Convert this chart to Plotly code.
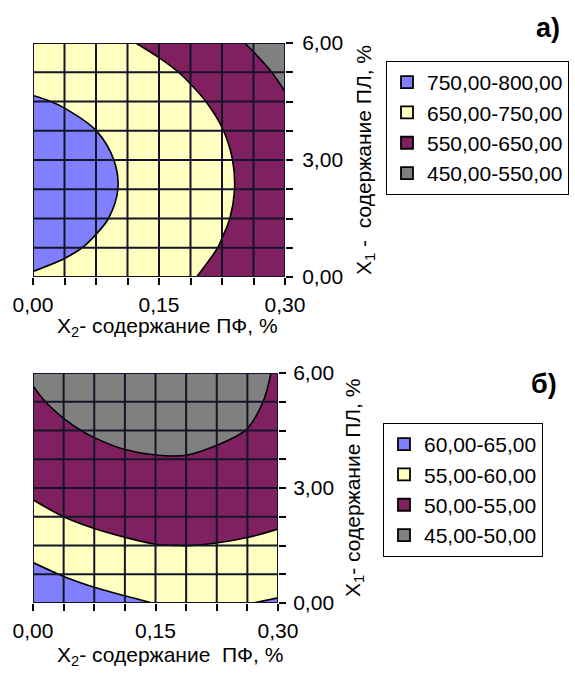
import plotly.graph_objects as go

# ---- data -------------------------------------------------------------
x2_vals = [0.0, 0.0375, 0.075, 0.1125, 0.15, 0.1875, 0.225, 0.2625, 0.30]   # X2, % (ПФ)
x1_vals = [0.0, 0.75, 1.5, 2.25, 3.0, 3.75, 4.5, 5.25, 6.0]                 # X1, % (ПЛ)

x_tickvals = x2_vals
x_ticktext = ["0,00", "", "", "", "0,15", "", "", "", "0,30"]
y_tickvals = x1_vals
y_ticktext = ["0,00", "", "", "", "3,00", "", "", "", "6,00"]

# chart a) rows = X1 (bottom -> top), columns = X2 (left -> right)
z_a = [
    [746.0, 736.8, 723.2, 705.2, 682.8, 656.0, 624.9, 589.3, 549.4],
    [766.8, 757.6, 744.0, 726.0, 703.6, 676.8, 645.7, 610.1, 570.2],
    [779.9, 770.7, 757.1, 739.1, 716.7, 689.9, 658.8, 623.2, 583.3],
    [785.3, 776.1, 762.5, 744.5, 722.1, 695.3, 664.2, 628.6, 588.7],
    [783.0, 773.8, 760.2, 742.2, 719.8, 693.0, 661.9, 626.3, 586.4],
    [773.0, 763.8, 750.2, 732.2, 709.8, 683.0, 651.9, 616.3, 576.4],
    [755.2, 746.0, 732.4, 714.4, 692.0, 665.2, 634.1, 598.5, 558.6],
    [729.8, 720.6, 707.0, 689.0, 666.6, 639.8, 608.7, 573.1, 533.2],
    [696.6, 687.4, 673.8, 655.8, 633.4, 606.6, 575.5, 539.9, 500.0],
]
labels_a = ["750,00-800,00", "650,00-750,00", "550,00-650,00", "450,00-550,00"]

# chart б)
z_b = [
    [64.02, 62.68, 61.53, 60.68, 59.92, 59.76, 59.90, 59.90, 60.42],
    [61.07, 59.78, 58.73, 57.97, 57.35, 57.22, 57.37, 57.56, 58.07],
    [58.44, 57.22, 56.26, 55.59, 55.09, 54.98, 55.16, 55.49, 56.01],
    [56.16, 55.00, 54.13, 53.53, 53.13, 53.06, 53.27, 53.71, 54.24],
    [54.20, 53.12, 52.32, 51.79, 51.48, 51.44, 51.70, 52.20, 52.76],
    [52.56, 51.58, 50.85, 50.37, 50.15, 50.14, 50.45, 50.98, 51.70],
    [51.29, 50.37, 49.72, 49.27, 49.12, 49.15, 49.53, 50.04, 51.00],
    [50.34, 49.50, 48.92, 48.49, 48.39, 48.47, 48.92, 49.37, 50.60],
    [49.72, 48.98, 48.45, 48.03, 47.97, 48.09, 48.63, 49.00, 50.30],
]
labels_b = ["60,00-65,00", "55,00-60,00", "50,00-55,00", "45,00-50,00"]

# ---- styles -----------------------------------------------------------
BLUE, YELLOW, PURPLE, GRAY = "#8080FF", "#FFFFC0", "#802060", "#808080"
band_colors = [BLUE, YELLOW, PURPLE, GRAY]
cscale = [[0, GRAY], [0.25, GRAY], [0.25, PURPLE], [0.5, PURPLE],
          [0.5, YELLOW], [0.75, YELLOW], [0.75, BLUE], [1, BLUE]]
FONT = "Liberation Sans, Arial, sans-serif"
W, H = 575, 673


def px_x(p):
    return p / W


def px_y(p):
    return 1 - p / H


fig = go.Figure()

fig.add_trace(go.Contour(
    x=x2_vals, y=x1_vals, z=z_a, zmin=450, zmax=850, zauto=False,
    autocontour=False, contours=dict(start=550, end=750, size=100, coloring="fill"),
    colorscale=cscale, showscale=False,
    line=dict(color="black", width=1.6, smoothing=1),
    hoverinfo="skip", showlegend=False, xaxis="x", yaxis="y"))

fig.add_trace(go.Contour(
    x=x2_vals, y=x1_vals, z=z_b, zmin=45, zmax=65, zauto=False,
    autocontour=False, contours=dict(start=50, end=60, size=5, coloring="fill"),
    colorscale=cscale, showscale=False,
    line=dict(color="black", width=1.6, smoothing=1),
    hoverinfo="skip", showlegend=False, xaxis="x2", yaxis="y2"))

# legend entries
for lab, col in zip(labels_a, band_colors):
    fig.add_trace(go.Scatter(
        x=[None], y=[None], mode="markers", name=lab, legend="legend",
        legendgroup="a" + lab,
        marker=dict(symbol="square", size=12, color=col,
                    line=dict(color="black", width=1.8)),
        xaxis="x", yaxis="y"))
for lab, col in zip(labels_b, band_colors):
    fig.add_trace(go.Scatter(
        x=[None], y=[None], mode="markers", name=lab, legend="legend2",
        legendgroup="b" + lab,
        marker=dict(symbol="square", size=12, color=col,
                    line=dict(color="black", width=1.8)),
        xaxis="x2", yaxis="y2"))

# grid lines drawn above the filled contours
shapes = []
for xa, ya in (("x", "y"), ("x2", "y2")):
    for xv in x2_vals:
        shapes.append(dict(type="line", xref=xa, yref=ya + " domain",
                           x0=xv, x1=xv, y0=0, y1=1,
                           line=dict(color="#141428", width=2), layer="above"))
    for yv in x1_vals:
        shapes.append(dict(type="line", xref=xa + " domain", yref=ya,
                           x0=0, x1=1, y0=yv, y1=yv,
                           line=dict(color="#141428", width=2), layer="above"))

axis_common = dict(showgrid=False, zeroline=False, showline=False,
                   ticks="outside", ticklen=7, tickwidth=1.5, tickcolor="black",
                   tickfont=dict(family=FONT, size=21, color="black"))

ann_font = dict(family=FONT, size=21, color="black")

fig.update_layout(
    width=W, height=H,
    margin=dict(l=0, r=0, t=0, b=0, autoexpand=False),
    paper_bgcolor="white", plot_bgcolor="white",
    font=dict(family=FONT, color="black"),
    shapes=shapes,
    xaxis=dict(domain=[px_x(33), px_x(285)], range=[0, 0.3], anchor="y",
               tickmode="array", tickvals=x_tickvals, ticktext=x_ticktext,
               ticklabelstandoff=2, **axis_common),
    yaxis=dict(domain=[px_y(277), px_y(43)], range=[0, 6], anchor="x", side="right",
               tickmode="array", tickvals=y_tickvals, ticktext=y_ticktext,
               ticklabelstandoff=5, **axis_common),
    xaxis2=dict(domain=[px_x(33), px_x(278)], range=[0, 0.3], anchor="y2",
                tickmode="array", tickvals=x_tickvals, ticktext=x_ticktext,
                ticklabelstandoff=2, **axis_common),
    yaxis2=dict(domain=[px_y(603), px_y(373)], range=[0, 6], anchor="x2", side="right",
                tickmode="array", tickvals=y_tickvals, ticktext=y_ticktext,
                ticklabelstandoff=3, **axis_common),
    legend=dict(x=px_x(386), y=px_y(61), xanchor="left", yanchor="top",
                bordercolor="black", borderwidth=1, bgcolor="white",
                font=dict(family=FONT, size=21, color="black"),
                tracegroupgap=4, traceorder="normal"),
    legend2=dict(x=px_x(383), y=px_y(423), xanchor="left", yanchor="top",
                 bordercolor="black", borderwidth=1, bgcolor="white",
                 font=dict(family=FONT, size=21, color="black"),
                 tracegroupgap=2, traceorder="normal"),
    annotations=[
        dict(text="<b>а)</b>", x=px_x(548), y=px_y(28), xref="paper", yref="paper",
             xanchor="center", yanchor="middle", showarrow=False,
             font=dict(family=FONT, size=27, color="black")),
        dict(text="<b>б)</b>", x=px_x(544), y=px_y(384), xref="paper", yref="paper",
             xanchor="center", yanchor="middle", showarrow=False,
             font=dict(family=FONT, size=27, color="black")),
        dict(text="X<sub>2</sub>- содержание ПФ, %", x=px_x(167), y=px_y(327),
             xref="paper", yref="paper", xanchor="center", yanchor="middle",
             showarrow=False, font=ann_font),
        dict(text="X<sub>2</sub>- содержание  ПФ, %", x=px_x(170), y=px_y(656),
             xref="paper", yref="paper", xanchor="center", yanchor="middle",
             showarrow=False, font=ann_font),
        dict(text="X<sub>1</sub> -  содержание ПЛ, %", x=px_x(365), y=px_y(160),
             xref="paper", yref="paper", xanchor="center", yanchor="middle",
             showarrow=False, textangle=-90, font=ann_font),
        dict(text="X<sub>1</sub>- содержание ПЛ, %", x=px_x(354), y=px_y(488),
             xref="paper", yref="paper", xanchor="center", yanchor="middle",
             showarrow=False, textangle=-90, font=ann_font),
    ],
)

fig.write_html("out.html", config={"displayModeBar": False},
               post_script="document.body.style.margin='0';")
